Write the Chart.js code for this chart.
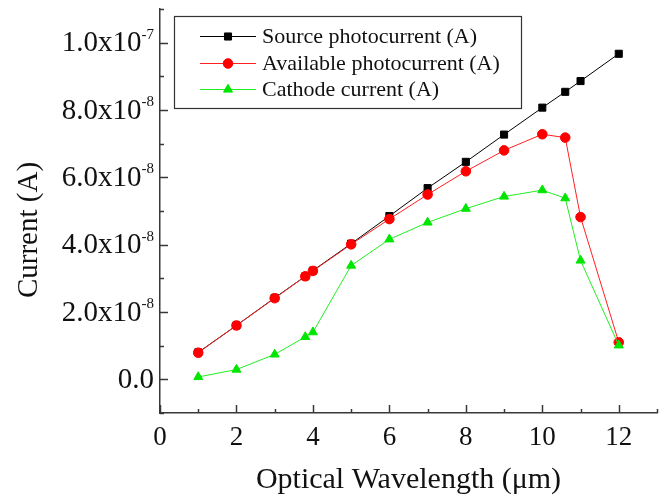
<!DOCTYPE html>
<html>
<head>
<meta charset="utf-8">
<script src="https://cdn.jsdelivr.net/npm/chart.js@4/dist/chart.umd.min.js"></script>
<style>
  html, body { margin: 0; padding: 0; background: #fff; }
  #wrap { width: 665px; height: 498px; position: relative; }
</style>
</head>
<body>
<div id="wrap"><canvas id="currentChart"></canvas></div>
<script>
// wavelength in um, currents in A
const wavelength = [1, 2, 3, 3.8, 4, 5, 6, 7, 8, 9, 10, 10.6, 11, 12];
const sourceCurrent = [0.80e-8, 1.60e-8, 2.42e-8, 3.06e-8, 3.23e-8, 4.03e-8, 4.85e-8, 5.68e-8, 6.46e-8, 7.27e-8, 8.07e-8, 8.54e-8, 8.86e-8, 9.67e-8];
const availableCurrent = [0.79e-8, 1.60e-8, 2.41e-8, 3.06e-8, 3.22e-8, 4.01e-8, 4.76e-8, 5.49e-8, 6.18e-8, 6.80e-8, 7.28e-8, 7.18e-8, 4.82e-8, 1.10e-8];
const cathodeCurrent = [0.07e-8, 0.29e-8, 0.74e-8, 1.26e-8, 1.40e-8, 3.38e-8, 4.16e-8, 4.66e-8, 5.07e-8, 5.43e-8, 5.62e-8, 5.38e-8, 3.53e-8, 1.01e-8];

const seriesLabels = ['Source photocurrent (A)', 'Available photocurrent (A)', 'Cathode current (A)'];

const xTickValues = [0, 2, 4, 6, 8, 10, 12];
const xTickLabels = ['0', '2', '4', '6', '8', '10', '12'];
const yTickValues = [0, 2e-8, 4e-8, 6e-8, 8e-8, 1e-7];
const yTickMantissa = ['0.0', '2.0x10', '4.0x10', '6.0x10', '8.0x10', '1.0x10'];
const yTickExponent = ['', '-8', '-8', '-8', '-8', '-7'];

const serif = "'Liberation Serif', 'Times New Roman', serif";
const axisColor = '#383838';

function pts(ys) {
    return wavelength.map((x, i) => ({ x: x, y: ys[i] }));
}

// inward ticks, superscript y labels, y title and the boxed legend
const decorPlugin = {
    id: 'decor',
    afterDraw(chart) {
        const { ctx, chartArea: area } = chart;
        const xs = chart.scales.x, ys = chart.scales.y;
        ctx.save();
        ctx.strokeStyle = axisColor;
        ctx.lineWidth = 1.5;

        // x ticks (every 1 um, long on even values)
        for (let v = xs.min; v <= xs.max; v++) {
            const px = Math.round(xs.getPixelForValue(v)) + 0.5;
            const len = v % 2 === 0 ? 8 : 4;
            ctx.beginPath();
            ctx.moveTo(px, area.bottom);
            ctx.lineTo(px, area.bottom - len);
            ctx.stroke();
        }
        // y ticks (every 1e-8, long on labelled ones)
        for (let k = -1; k <= 11; k++) {
            const py = Math.round(ys.getPixelForValue(k * 1e-8)) + 0.5;
            const len = k % 2 === 0 ? 8 : 4;
            ctx.beginPath();
            ctx.moveTo(area.left, py);
            ctx.lineTo(area.left + len, py);
            ctx.stroke();
        }

        // y tick labels with superscript exponent
        ctx.fillStyle = '#111';
        ctx.textBaseline = 'middle';
        const right = area.left - 6;
        yTickValues.forEach((v, i) => {
            const py = ys.getPixelForValue(v);
            ctx.font = '15px ' + serif;
            const ew = yTickExponent[i] ? ctx.measureText(yTickExponent[i]).width : 0;
            if (ew) {
                ctx.textAlign = 'right';
                ctx.fillText(yTickExponent[i], right, py - 8);
            }
            ctx.font = '29px ' + serif;
            ctx.textAlign = 'right';
            ctx.fillText(yTickMantissa[i], right - ew, py + 1);
        });

        // y axis title
        ctx.save();
        ctx.translate(29, 230);
        ctx.rotate(-Math.PI / 2);
        ctx.textAlign = 'center';
        ctx.font = '29px ' + serif;
        ctx.fillText('Current (A)', 0, 0);
        ctx.restore();

        // legend
        ctx.lineWidth = 1.2;
        ctx.strokeStyle = '#333';
        ctx.strokeRect(174.5, 16.5, 347, 92);
        ctx.font = '22px ' + serif;
        ctx.textAlign = 'left';
        const rows = [36, 63, 89];
        [0, 1, 2].forEach(i => {
            const ds = chart.data.datasets[i];
            const ry = rows[i] + 0.5;
            ctx.strokeStyle = ds.borderColor;
            ctx.lineWidth = 1;
            ctx.beginPath();
            ctx.moveTo(200, ry);
            ctx.lineTo(256, ry);
            ctx.stroke();
            ctx.fillStyle = ds.pointBackgroundColor;
            ctx.strokeStyle = ds.pointBackgroundColor;
            Chart.helpers.drawPoint(ctx, {
                pointStyle: ds.pointStyle, radius: ds.pointRadius, rotation: 0, borderWidth: 1
            }, 228, ry);
            ctx.fillStyle = '#111';
            ctx.fillText(ds.label, 262, rows[i] + 1);
        });
        ctx.restore();
    }
};

new Chart(document.getElementById('currentChart'), {
    type: 'line',
    data: {
        datasets: [
            {
                label: seriesLabels[0], data: pts(sourceCurrent), order: 3,
                borderColor: '#000', borderWidth: 1, pointStyle: 'rect', pointRadius: 5,
                pointBackgroundColor: '#000', pointBorderColor: '#000', pointBorderWidth: 1
            },
            {
                label: seriesLabels[1], data: pts(availableCurrent), order: 2,
                borderColor: '#ff2020', borderWidth: 1, pointStyle: 'circle', pointRadius: 4.8,
                pointBackgroundColor: '#ff0000', pointBorderColor: '#ff0000', pointBorderWidth: 1
            },
            {
                label: seriesLabels[2], data: pts(cathodeCurrent), order: 1,
                borderColor: '#22ee22', borderWidth: 1, pointStyle: 'triangle', pointRadius: 5.2,
                pointBackgroundColor: '#00e600', pointBorderColor: '#00e600', pointBorderWidth: 1
            }
        ]
    },
    options: {
        responsive: true,
        maintainAspectRatio: false,
        animation: false,
        layout: { padding: { top: 9, right: 8, bottom: 0, left: 0 } },
        plugins: { legend: { display: false }, tooltip: { enabled: false } },
        scales: {
            x: {
                type: 'linear', min: 0, max: 13,
                afterBuildTicks: s => { s.ticks = xTickValues.map(v => ({ value: v })); },
                afterFit: s => { s.height = 85; },
                ticks: {
                    color: '#111', padding: 9,
                    font: { family: serif, size: 27 },
                    callback: v => xTickLabels[xTickValues.indexOf(v)]
                },
                grid: { display: true, drawOnChartArea: false, drawTicks: false },
                border: { display: true, color: axisColor, width: 1.5 },
                title: {
                    display: true, text: 'Optical Wavelength (\u03bcm)', color: '#111',
                    font: { family: serif, size: 30 }, padding: { top: 0, bottom: 0 }
                }
            },
            y: {
                type: 'linear', min: -1e-8, max: 1.1e-7,
                afterBuildTicks: s => { s.ticks = yTickValues.map(v => ({ value: v })); },
                afterFit: s => { s.width = 160; },
                ticks: { display: false },
                grid: { display: true, drawOnChartArea: false, drawTicks: false },
                border: { display: true, color: axisColor, width: 1.5 }
            }
        }
    },
    plugins: [decorPlugin]
});
</script>
</body>
</html>
